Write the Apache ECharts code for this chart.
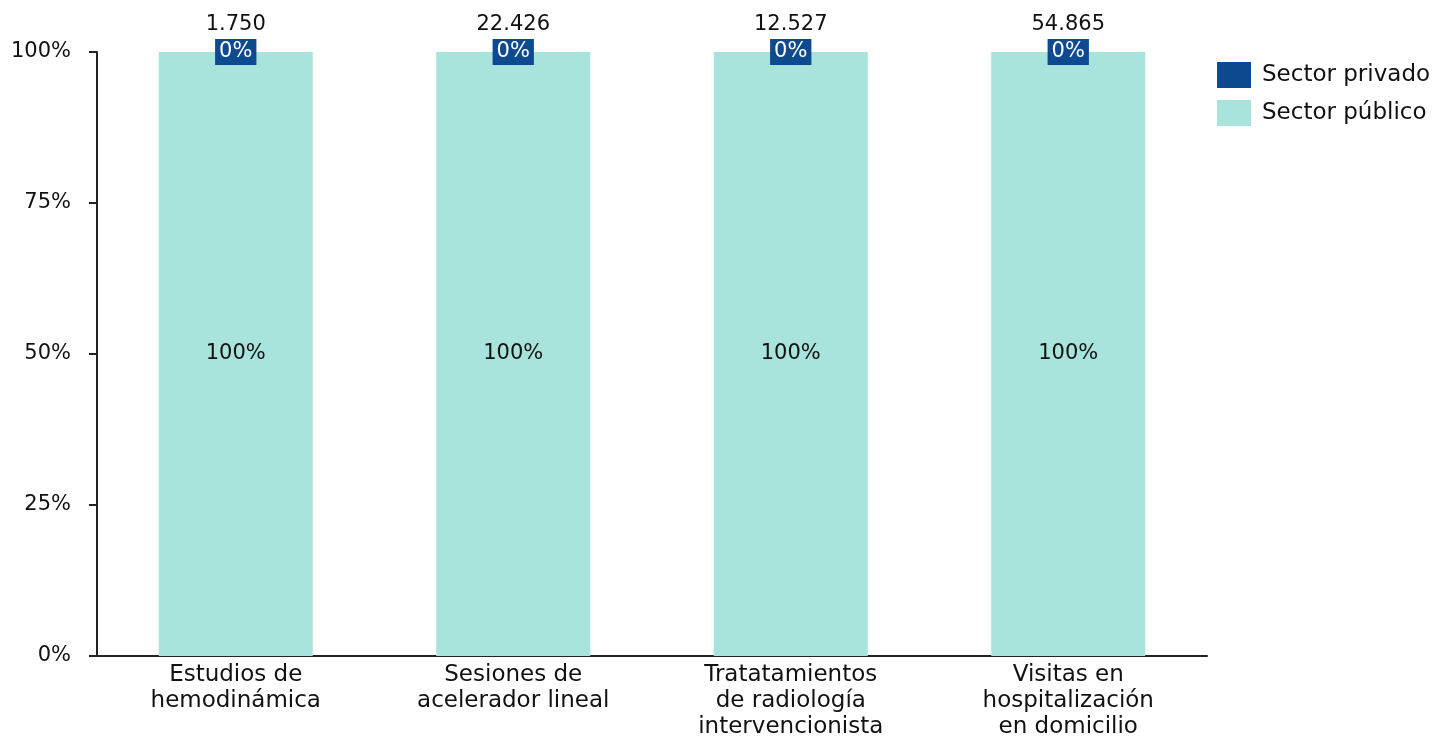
<!DOCTYPE html>
<html><head><meta charset="utf-8">
<script src="https://cdn.jsdelivr.net/npm/echarts@6/dist/echarts.min.js"></script>
<style>html,body{margin:0;padding:0;background:#fff}#c{width:1440px;height:738px}</style>
</head><body><div id="c"></div>
<script>
var categories = ['Estudios de\nhemodinámica', 'Sesiones de\nacelerador lineal', 'Tratatamientos\nde radiología\nintervencionista', 'Visitas en\nhospitalización\nen domicilio'];
var publicPct = [100, 100, 100, 100];
var privatePct = [0, 0, 0, 0];
var totals = ['1.750', '22.426', '12.527', '54.865'];
var yTicks = ['0%', '25%', '50%', '75%', '100%'];

var FONT = '"DejaVu Sans", sans-serif';
var chart = echarts.init(document.getElementById('c'));
chart.setOption({
  animation: false,
  textStyle: {fontFamily: FONT},
  grid: {left: 97, right: 233, top: 52, bottom: 82, containLabel: false, outerBoundsMode: 'none'},
  legend: {
    data: ['Sector privado', 'Sector público'],
    orient: 'vertical', left: 1212, top: 57,
    itemWidth: 34, itemHeight: 26, itemGap: 12,
    textStyle: {fontSize: 23, color: '#111', fontFamily: FONT, padding: [0, 0, 0, 6]},
    icon: 'rect'
  },
  xAxis: {
    type: 'category', data: categories,
    axisLine: {lineStyle: {color: '#222', width: 2}},
    axisTick: {show: false},
    axisLabel: {fontSize: 23, color: '#111', lineHeight: 26, margin: 6, interval: 0, fontFamily: FONT}
  },
  yAxis: {
    type: 'value', min: 0, max: 100, interval: 25,
    axisLine: {show: true, lineStyle: {color: '#222', width: 2}},
    axisTick: {show: true, length: 8, lineStyle: {color: '#222', width: 2}},
    splitLine: {show: false},
    axisLabel: {fontSize: 21, color: '#111', margin: 26, fontFamily: FONT,
      formatter: function (v) { return yTicks[v / 25]; }}
  },
  series: [
    {
      name: 'Sector público', type: 'bar', stack: 's', barWidth: '55.5%',
      data: publicPct,
      itemStyle: {color: '#a8e3dc'},
      label: {show: true, position: 'inside', fontSize: 21, color: '#111', fontFamily: FONT,
        formatter: function (p) { return p.value + '%'; }}
    },
    {
      name: 'Sector privado', type: 'bar', stack: 's',
      data: privatePct,
      itemStyle: {color: '#0e4a8f'},
      label: {show: true, position: 'inside', fontSize: 21, color: '#fff', fontFamily: FONT,
        backgroundColor: '#0e4a8f', padding: [3, 4, 2, 4],
        formatter: function (p) { return p.value + '%'; }}
    },
    {
      name: 'total', type: 'bar', stack: 's',
      data: privatePct,
      itemStyle: {color: 'transparent'},
      label: {show: true, position: 'top', distance: 17, fontSize: 21, color: '#111', fontFamily: FONT,
        formatter: function (p) { return totals[p.dataIndex]; }}
    }
  ]
});
</script></body></html>
